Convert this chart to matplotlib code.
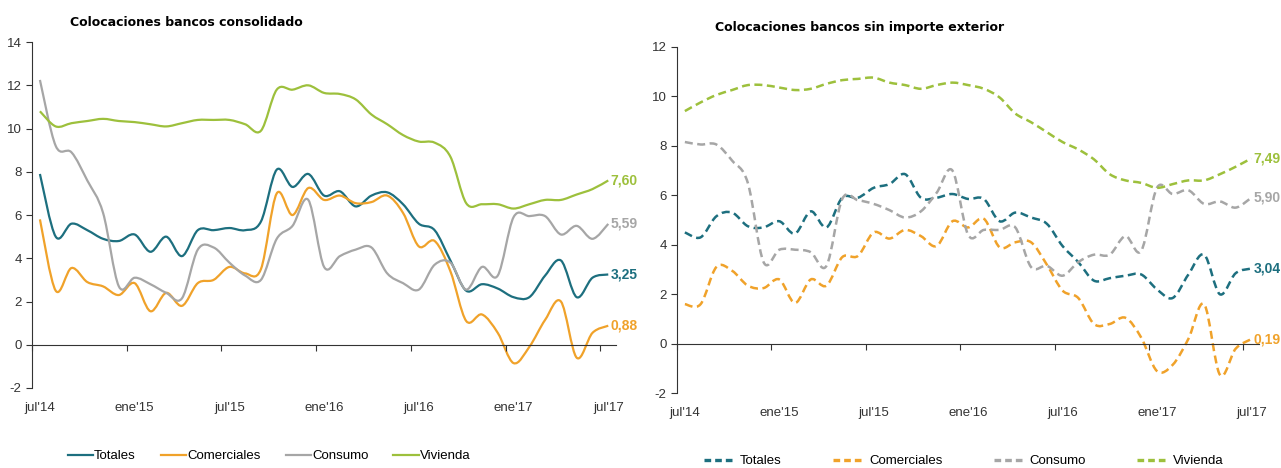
import matplotlib
matplotlib.use('Agg')
import matplotlib.pyplot as plt
from matplotlib.lines import Line2D
from matplotlib.path import Path
from matplotlib.patches import PathPatch
import numpy as np

plt.rcParams['axes.unicode_minus'] = False
FUENTE = 'Liberation Sans'

# meses jul'14 .. jul'17
etiquetas = ["jul'14", "ene'15", "jul'15", "ene'16", "jul'16", "ene'17", "jul'17"]
series = ['Totales', 'Comerciales', 'Consumo', 'Vivienda']
colores = ['#1d6f7f', '#f0a22a', '#a6a6a6', '#9dc03c']

# consolidado
tot_c = [7.9, 5.0, 5.6, 5.3, 4.9, 4.8, 5.1, 4.3, 5.0, 4.1, 5.3, 5.3, 5.4, 5.3, 5.7, 8.1, 7.3, 7.9, 6.9,
         7.1, 6.4, 6.9, 7.05, 6.5, 5.6, 5.3, 3.9, 2.5, 2.8, 2.6, 2.2, 2.2, 3.2, 3.9, 2.2, 3.1, 3.25]
com_c = [5.8, 2.5, 3.55, 2.9, 2.7, 2.3, 2.85, 1.55, 2.4, 1.8, 2.85, 3.0, 3.6, 3.3, 3.5, 7.0, 6.0, 7.25, 6.7,
         6.9, 6.55, 6.6, 6.9, 6.1, 4.55, 4.8, 3.4, 1.1, 1.4, 0.55, -0.85, -0.1, 1.15, 2.0, -0.6, 0.55, 0.88]
con_c = [12.25, 9.2, 8.9, 7.6, 6.1, 2.7, 3.1, 2.8, 2.4, 2.15, 4.4, 4.5, 3.8, 3.2, 3.0, 4.9, 5.5, 6.7, 3.6,
         4.1, 4.4, 4.5, 3.3, 2.85, 2.55, 3.7, 3.8, 2.55, 3.6, 3.2, 5.9, 5.95, 5.95, 5.1, 5.5, 4.9, 5.59]
viv_c = [10.8, 10.1, 10.25, 10.35, 10.45, 10.35, 10.3, 10.2, 10.1, 10.25, 10.4, 10.4, 10.4, 10.2, 9.9, 11.8,
         11.8, 12.0, 11.65, 11.6, 11.35, 10.65, 10.2, 9.7, 9.4, 9.35, 8.7, 6.55, 6.5, 6.5, 6.3, 6.5, 6.7,
         6.7, 6.95, 7.2, 7.6]

# sin importe exterior
tot_s = [4.5, 4.3, 5.15, 5.3, 4.75, 4.7, 4.95, 4.45, 5.35, 4.7, 5.9, 5.9, 6.3, 6.45, 6.85, 5.9, 5.9, 6.05,
         5.85, 5.85, 4.95, 5.3, 5.1, 4.85, 3.95, 3.3, 2.55, 2.65, 2.75, 2.8, 2.2, 1.85, 2.8, 3.6, 2.0, 2.85, 3.04]
com_s = [1.6, 1.6, 3.1, 2.95, 2.35, 2.25, 2.6, 1.65, 2.6, 2.35, 3.5, 3.55, 4.5, 4.25, 4.6, 4.35, 3.95, 4.95,
         4.7, 5.05, 3.9, 4.1, 4.1, 3.2, 2.15, 1.85, 0.8, 0.8, 1.05, 0.25, -1.1, -0.85, 0.2, 1.6, -1.25, -0.2, 0.19]
con_s = [8.15, 8.05, 8.05, 7.4, 6.5, 3.3, 3.8, 3.8, 3.7, 3.15, 5.85, 5.8, 5.65, 5.4, 5.1, 5.35, 6.1, 7.0,
         4.4, 4.6, 4.6, 4.7, 3.1, 3.15, 2.75, 3.3, 3.6, 3.6, 4.35, 3.75, 6.3, 6.05, 6.2, 5.65, 5.75, 5.5, 5.9]
viv_s = [9.4, 9.75, 10.05, 10.25, 10.45, 10.45, 10.35, 10.25, 10.3, 10.5, 10.65, 10.7, 10.75, 10.55, 10.45,
         10.3, 10.45, 10.55, 10.45, 10.3, 9.95, 9.3, 8.95, 8.55, 8.15, 7.85, 7.45, 6.85, 6.6, 6.5, 6.3, 6.45,
         6.6, 6.6, 6.85, 7.15, 7.49]

fig = plt.figure(figsize=(12.81, 4.68), dpi=100)
ax1 = fig.add_axes([0.025, 0.171, 0.456, 0.739])
ax2 = fig.add_axes([0.5285, 0.1596, 0.4545, 0.7406])


def curva(x, y):
    # linea suavizada tipo Excel (Bezier por los puntos)
    p = np.column_stack([x, y]).astype(float)
    n = len(p)
    verts = [p[0]]
    codes = [Path.MOVETO]
    for i in range(n - 1):
        p0 = p[max(i - 1, 0)]
        p3 = p[min(i + 2, n - 1)]
        verts += [p[i] + (p[i + 1] - p0) / 6, p[i + 1] - (p3 - p[i]) / 6, p[i + 1]]
        codes += [Path.CURVE4] * 3
    return Path(verts, codes)


def panel(ax, datos, ymin, ymax, estilo):
    x = np.arange(len(datos[0]))
    for d, c in zip(datos, colores):
        if estilo == 'dash':
            ls = (0, (3.2, 1.8))
            lw = 1.8
        else:
            ls = '-'
            lw = 1.6
        ax.add_patch(PathPatch(curva(x, d), fill=False, edgecolor=c, lw=lw, linestyle=ls,
                               capstyle='butt', joinstyle='round'))
        ax.annotate(('%.2f' % d[-1]).replace('.', ','), xy=(x[-1], d[-1]), xytext=(1.5, 0),
                    textcoords='offset points', va='center', ha='left', color=c,
                    fontsize=10, fontweight='bold', family=FUENTE)
    ax.set_xlim(-0.5, len(x) - 0.5)
    ax.set_ylim(ymin, ymax)
    ax.set_yticks(range(ymin, ymax + 1, 2))
    ax.tick_params(axis='y', direction='out', length=4, labelsize=9.5, colors='#333333')
    for t in ax.get_yticklabels():
        t.set_family(FUENTE)
    ax.spines['top'].set_visible(False)
    ax.spines['right'].set_visible(False)
    ax.spines['left'].set_color('#333333')
    ax.spines['bottom'].set_position(('data', 0))
    ax.spines['bottom'].set_color('#333333')
    ax.set_xticks(np.arange(-0.5, len(x), 6))
    ax.tick_params(axis='x', direction='out', length=4, labelbottom=False, colors='#333333')
    sec = ax.secondary_xaxis('bottom')
    sec.set_xticks(x[::6], etiquetas)
    sec.tick_params(length=0, pad=10, labelsize=9.5, colors='#333333')
    for t in sec.get_xticklabels():
        t.set_family(FUENTE)
    sec.spines['bottom'].set_visible(False)


panel(ax1, [tot_c, com_c, con_c, viv_c], -2, 14, 'solid')
panel(ax2, [tot_s, com_s, con_s, viv_s], -2, 12, 'dash')

fig.text(70 / 1281, 1 - 22 / 468, 'Colocaciones bancos consolidado', ha='left', va='center',
         fontsize=9, fontweight='bold', family='DejaVu Sans')
fig.text(715 / 1281, 1 - 27 / 468, 'Colocaciones bancos sin importe exterior', ha='left', va='center',
         fontsize=9, fontweight='bold', family='DejaVu Sans')

h1 = [Line2D([], [], color=c, lw=1.6) for c in colores]
h2 = [Line2D([], [], color=c, lw=2.4, dashes=(2.0, 1.2)) for c in colores]
fig.legend(h1, series, loc='center', bbox_to_anchor=(269 / 1281, 1 - 456 / 468), ncol=4, frameon=False,
           handlelength=1.9, handletextpad=0.1, columnspacing=1.9, prop={'family': FUENTE, 'size': 9.5})
fig.legend(h2, series, loc='center', bbox_to_anchor=(964 / 1281, 1 - 461 / 468), ncol=4, frameon=False,
           handlelength=2.4, handletextpad=0.3, columnspacing=3.9, prop={'family': FUENTE, 'size': 9.5})

fig.savefig('out.png', dpi=100)
